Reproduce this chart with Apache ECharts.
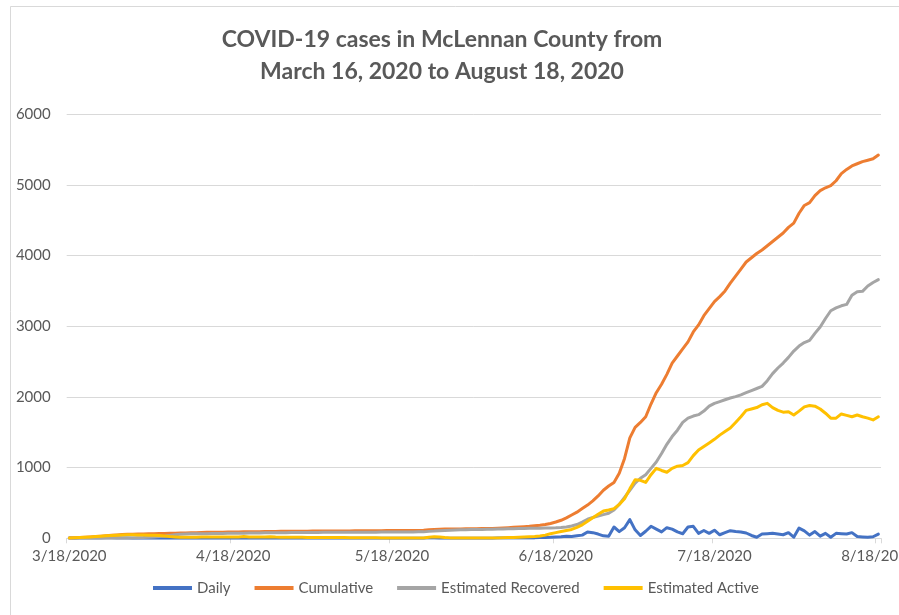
<!DOCTYPE html>
<html>
<head>
<meta charset="utf-8">
<script src="https://cdn.jsdelivr.net/npm/echarts@6/dist/echarts.min.js"></script>
<style>
html,body{margin:0;padding:0;background:#fff;}
#chart{width:899px;height:615px;}
</style>
</head>
<body>
<div id="chart"></div>
<script>
// ---- data ----
const startDate = [2020, 3, 18];   // first category (M/D/YYYY)
const dayCount = 154;              // 3/18/2020 .. 8/18/2020
const seriesNames = ['Daily', 'Cumulative', 'Estimated Recovered', 'Estimated Active'];
const yTicks = [0, 1000, 2000, 3000, 4000, 5000, 6000];

const daily = [
  3, 2, 4, 5, 4, 6, 6, 7, 8, 6,
  5, 3, 2, 2, 1, 2, 2, 1, 2, 1,
  2, 2, 2, 2, 3, 2, 1, 1, 1, 1,
  1, 1, 1, 1, 1, 1, 1, 1, 1, 1,
  1, 1, 1, 1, 1, 0, 1, 0, 1, 0,
  1, 0, 1, 0, 1, 0, 1, 0, 1, 0,
  1, 1, 0, 1, 1, 1, 1, 2, 6, 5,
  1, 1, 1, 1, 1, 1, 1, 1, 1, 1,
  1, 4, 3, 4, 6, 5, 5, 4, 6, 10,
  12, 15, 20, 22, 30, 25, 35, 45, 90, 80,
  60, 35, 30, 160, 95, 150, 265, 120, 40, 100,
  170, 130, 90, 150, 130, 90, 65, 160, 170, 70,
  110, 70, 115, 50, 80, 108, 95, 90, 75, 40,
  15, 60, 65, 70, 60, 50, 80, 15, 145, 105,
  45, 95, 30, 70, 15, 70, 65, 60, 80, 25,
  20, 14, 22, 60
];
const cumulative = [
  5, 8, 11, 15, 19, 24, 29, 35, 42, 48,
  53, 56, 58, 60, 62, 64, 66, 67, 69, 70,
  72, 74, 76, 78, 80, 82, 84, 85, 86, 87,
  88, 89, 90, 91, 92, 93, 94, 95, 96, 97,
  98, 99, 100, 100, 101, 101, 102, 102, 103, 103,
  104, 104, 105, 105, 106, 106, 107, 107, 108, 108,
  109, 109, 110, 110, 111, 111, 112, 113, 120, 126,
  128, 130, 131, 132, 133, 134, 135, 136, 137, 138,
  140, 143, 146, 150, 155, 160, 165, 170, 177, 185,
  195, 210, 230, 255, 290, 330, 370, 420, 470, 530,
  600, 680, 740, 790, 920, 1130, 1420, 1570, 1640, 1720,
  1900, 2060, 2180, 2320, 2480, 2580, 2680, 2780, 2920, 3020,
  3150, 3250, 3350, 3420, 3500, 3610, 3710, 3810, 3910, 3970,
  4030, 4080, 4140, 4200, 4260, 4320, 4400, 4460, 4600, 4710,
  4750, 4850, 4920, 4960, 4990, 5060, 5160, 5220, 5270, 5300,
  5330, 5350, 5370, 5424
];
const recovered = [
  0, 0, 0, 0, 0, 0, 0, 0, 0, 0,
  0, 0, 5, 8, 10, 15, 20, 25, 30, 40,
  50, 58, 62, 63, 64, 65, 66, 67, 68, 69,
  70, 71, 72, 73, 74, 75, 76, 77, 78, 79,
  80, 80, 81, 81, 82, 82, 83, 83, 84, 84,
  85, 85, 85, 86, 86, 86, 87, 87, 87, 88,
  88, 88, 89, 89, 90, 90, 91, 91, 98, 102,
  108, 112, 115, 118, 120, 122, 124, 125, 126, 127,
  128, 130, 132, 134, 136, 138, 140, 141, 142, 143,
  144, 146, 148, 152, 160, 175, 195, 230, 270, 295,
  315, 335, 355, 400, 480, 580, 680, 780, 850, 900,
  990, 1080, 1200, 1330, 1440, 1530, 1640, 1700, 1730, 1750,
  1800, 1870, 1910, 1935, 1960, 1985, 2005, 2030, 2060, 2090,
  2120, 2150, 2230, 2330, 2410, 2480, 2560, 2650, 2720, 2770,
  2800, 2900, 2990, 3110, 3220, 3260, 3290, 3310, 3440, 3490,
  3495, 3570, 3620, 3660
];
const active = [
  5, 8, 11, 15, 19, 24, 29, 35, 40, 44,
  47, 50, 50, 48, 46, 44, 42, 38, 34, 26,
  20, 15, 14, 15, 16, 17, 18, 18, 18, 18,
  18, 18, 19, 25, 20, 18, 18, 17, 22, 17,
  16, 15, 15, 14, 14, 13, 13, 12, 12, 11,
  11, 10, 10, 9, 9, 8, 8, 7, 7, 6,
  6, 6, 6, 5, 5, 5, 5, 5, 15, 22,
  18, 10, 6, 5, 5, 5, 5, 5, 5, 5,
  5, 6, 8, 10, 12, 15, 18, 22, 26, 32,
  45, 65, 80, 95, 110, 125, 155, 190, 240, 290,
  340, 385, 400, 420, 480, 560, 700, 830, 820, 790,
  900, 990, 960, 935, 990, 1020, 1030, 1070, 1170, 1250,
  1300, 1350, 1400, 1460, 1510, 1560, 1640, 1720, 1810, 1830,
  1850, 1890, 1910, 1850, 1810, 1785, 1790, 1745, 1800, 1860,
  1880, 1870, 1830, 1770, 1700, 1700, 1760, 1740, 1720, 1745,
  1720, 1700, 1675, 1720
];

// category labels (dates)
const categories = [];
{
  const d0 = new Date(Date.UTC(startDate[0], startDate[1] - 1, startDate[2]));
  for (let i = 0; i < dayCount; i++) {
    const d = new Date(d0.getTime() + i * 86400000);
    categories.push((d.getUTCMonth() + 1) + '/' + d.getUTCDate() + '/' + d.getUTCFullYear());
  }
}
const isLabelDay = (idx, val) => String(val).split('/')[1] === '18';

const colors = ['#4472C4', '#ED7D31', '#A5A5A5', '#FFC000'];
const values = [daily, cumulative, recovered, active];
const FONT = 'Lato';

const chart = echarts.init(document.getElementById('chart'), null, {renderer: 'canvas'});
chart.setOption({
  animation: false,
  backgroundColor: '#ffffff',
  color: colors,
  title: {
    text: 'COVID-19 cases in McLennan County from\nMarch 16, 2020 to August 18, 2020',
    left: 442,
    textAlign: 'center',
    top: 24,
    padding: 0,
    textStyle: {fontFamily: FONT, fontWeight: 'bold', fontSize: 23, color: '#595959', lineHeight: 32}
  },
  legend: {
    data: seriesNames,
    left: 153,
    top: 578,
    padding: 0,
    icon: 'rect',
    itemWidth: 39,
    itemHeight: 4,
    itemGap: 24,
    textStyle: {fontFamily: FONT, fontSize: 15, color: '#595959', lineHeight: 20}
  },
  grid: {left: 66.7, right: 18, top: 114.3, bottom: 76.7, containLabel: false, outerBoundsMode: 'none'},
  xAxis: {
    type: 'category',
    data: categories,
    boundaryGap: true,
    axisLine: {lineStyle: {color: '#d9d9d9', width: 1}},
    axisTick: {show: true, interval: isLabelDay, length: 5, lineStyle: {color: '#d9d9d9'}},
    axisLabel: {interval: isLabelDay, margin: 10, fontFamily: FONT, fontSize: 15, color: '#595959', hideOverlap: false},
    splitLine: {show: false}
  },
  yAxis: {
    type: 'value',
    min: yTicks[0],
    max: yTicks[yTicks.length - 1],
    interval: yTicks[1] - yTicks[0],
    axisLine: {show: false},
    axisTick: {show: false},
    axisLabel: {margin: 16, fontFamily: FONT, fontSize: 15, color: '#595959', formatter: v => String(v)},
    splitLine: {lineStyle: {color: '#d9d9d9', width: 1}}
  },
  series: seriesNames.map((name, i) => ({
    name: name,
    type: 'line',
    data: values[i],
    showSymbol: false,
    symbol: 'none',
    lineStyle: {width: 3, color: colors[i], join: 'round', cap: 'round'},
    itemStyle: {color: colors[i]}
  })),
  graphic: [{
    type: 'rect',
    shape: {x: 10.5, y: 6.5, width: 1000, height: 1000},
    style: {fill: 'none', stroke: '#d9d9d9', lineWidth: 1},
    silent: true,
    z: -1
  }]
});
</script>
</body>
</html>
